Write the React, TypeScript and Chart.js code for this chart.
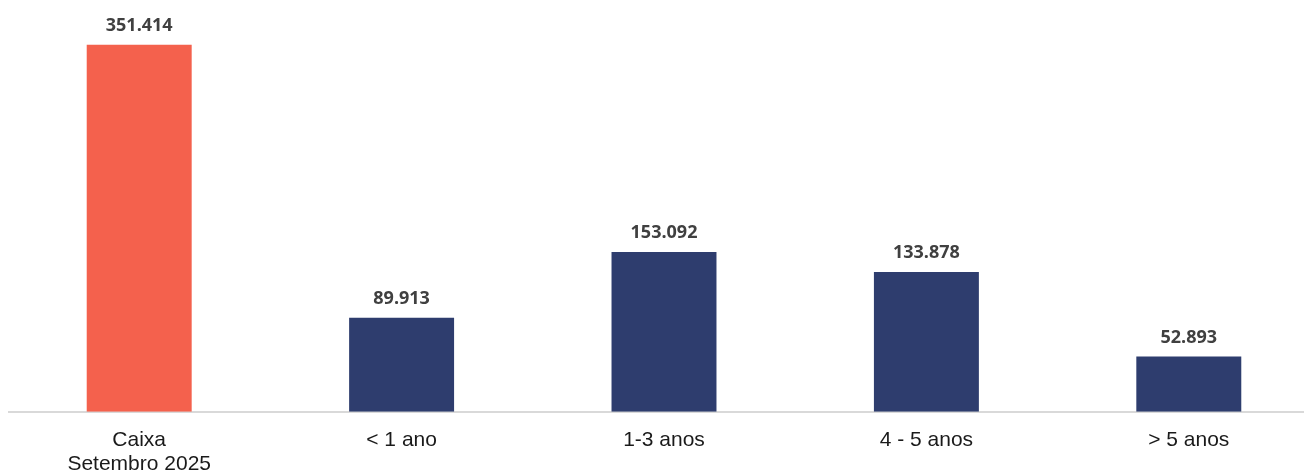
import React, { useEffect, useRef } from "react";
import { Chart, registerables } from "chart.js";

Chart.register(...registerables);

const categories: (string | string[])[] = [
  ["Caixa", "Setembro 2025"],
  "< 1 ano",
  "1-3 anos",
  "4 - 5 anos",
  "> 5 anos",
];
const values = [351414, 89913, 153092, 133878, 52893];
const barColors = ["#F4614D", "#2E3D6E", "#2E3D6E", "#2E3D6E", "#2E3D6E"];

function fmt(v: number): string {
  return String(Math.round(v)).replace(/\B(?=(\d{3})+(?!\d))/g, ".");
}

const valueLabels = {
  id: "valueLabels",
  afterDatasetsDraw(chart: any) {
    const ctx = chart.ctx;
    const meta = chart.getDatasetMeta(0);
    ctx.save();
    ctx.font = "bold 18px 'Open Sans'";
    ctx.fillStyle = "#404040";
    ctx.textAlign = "center";
    ctx.textBaseline = "middle";
    meta.data.forEach((bar: any, i: number) => {
      ctx.fillText(fmt(values[i]), bar.x, bar.y - 19);
    });
    ctx.restore();
  },
};

export default function App() {
  const ref = useRef<HTMLCanvasElement | null>(null);
  useEffect(() => {
    document.body.style.overflow = "hidden";
    if (!ref.current) return;
    const chart = new Chart(ref.current, {
      type: "bar",
      data: {
        labels: categories,
        datasets: [
          {
            data: values,
            backgroundColor: barColors,
            borderWidth: 0,
            categoryPercentage: 1,
            barPercentage: 0.4,
          },
        ],
      },
      options: {
        animation: false,
        responsive: true,
        maintainAspectRatio: false,
        layout: { padding: { top: 7, left: 0, right: 0, bottom: 0 } },
        plugins: {
          legend: { display: false },
          tooltip: { enabled: false },
        },
        scales: {
          x: {
            grid: { display: false, drawTicks: false },
            border: { display: true, color: "#D9D9D9", width: 2 },
            ticks: {
              color: "#1A1A1A",
              font: { family: "'Liberation Sans', Arial", size: 21, lineHeight: 1.15 },
              padding: 16,
              maxRotation: 0,
              autoSkip: false,
            },
          },
          y: {
            display: false,
            min: 0,
            max: 380000,
          },
        },
      },
      plugins: [valueLabels],
    });
    return () => chart.destroy();
  }, []);
  return (
    <div style={{ width: "1312px", height: "484px", position: "relative" }}>
      <canvas ref={ref} />
    </div>
  );
}
